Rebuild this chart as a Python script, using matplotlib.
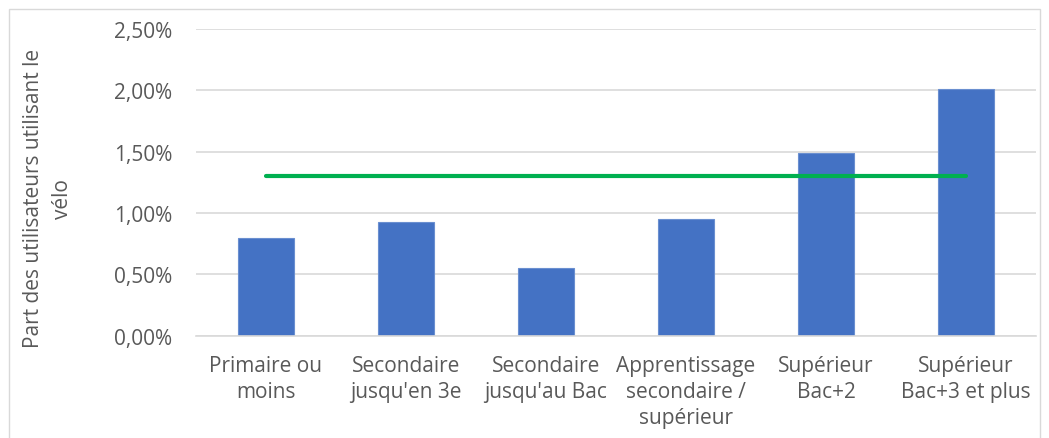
import matplotlib.pyplot as plt
from matplotlib.patches import Rectangle
from matplotlib.ticker import FuncFormatter

categories = ["Primaire ou\nmoins", "Secondaire\njusqu'en 3e", "Secondaire\njusqu'au Bac",
              "Apprentissage\nsecondaire /\nsupérieur", "Supérieur\nBac+2", "Supérieur\nBac+3 et plus"]
shares = [0.80, 0.93, 0.55, 0.95, 1.49, 2.01]
average = 1.30

plt.rcParams['font.family'] = ['Open Sans', 'DejaVu Sans']
text_color = '#595959'

fig = plt.figure(figsize=(10.49, 4.39), dpi=100)
fig.patches.append(Rectangle((9 / 1049, -0.01), 1031 / 1049, 1 - 10 / 439 + 0.01,
                             transform=fig.transFigure, fill=False,
                             edgecolor='#d9d9d9', linewidth=1))
ax = fig.add_axes([0.1868, 0.233, 0.8008, 0.6987])

x = list(range(len(categories)))
ax.bar(x, shares, width=0.4, color='#4472c4', edgecolor='#6a8fd0', linewidth=0.8, zorder=2)
ax.plot([x[0], x[-1]], [average, average], color='#00b050', linewidth=3,
        solid_capstyle='round', zorder=3)

ax.set_xlim(-0.5, len(categories) - 0.5)
ax.set_ylim(0, 2.5)
ax.set_yticks([0, 0.5, 1.0, 1.5, 2.0, 2.5])
ax.yaxis.set_major_formatter(FuncFormatter(lambda v, p: f"{v:.2f}%".replace('.', ',')))
ax.set_xticks(x)
ax.set_xticklabels(categories, linespacing=1.3)

ax.grid(axis='y', color='#d9d9d9', linewidth=1.2, zorder=0)
ax.set_axisbelow(True)
for s in ['top', 'right', 'left']:
    ax.spines[s].set_visible(False)
ax.spines['bottom'].set_color('#d9d9d9')
ax.spines['bottom'].set_linewidth(1.2)
ax.tick_params(axis='both', length=0, labelsize=15, colors=text_color)
ax.tick_params(axis='y', pad=17)
ax.tick_params(axis='x', pad=14)

ax.set_ylabel("Part des utilisateurs utilisant le\nvélo", fontsize=15,
              color=text_color, linespacing=1.5)
ax.yaxis.set_label_coords(-0.146, 0.45)

fig.savefig("out.png", dpi=100)
